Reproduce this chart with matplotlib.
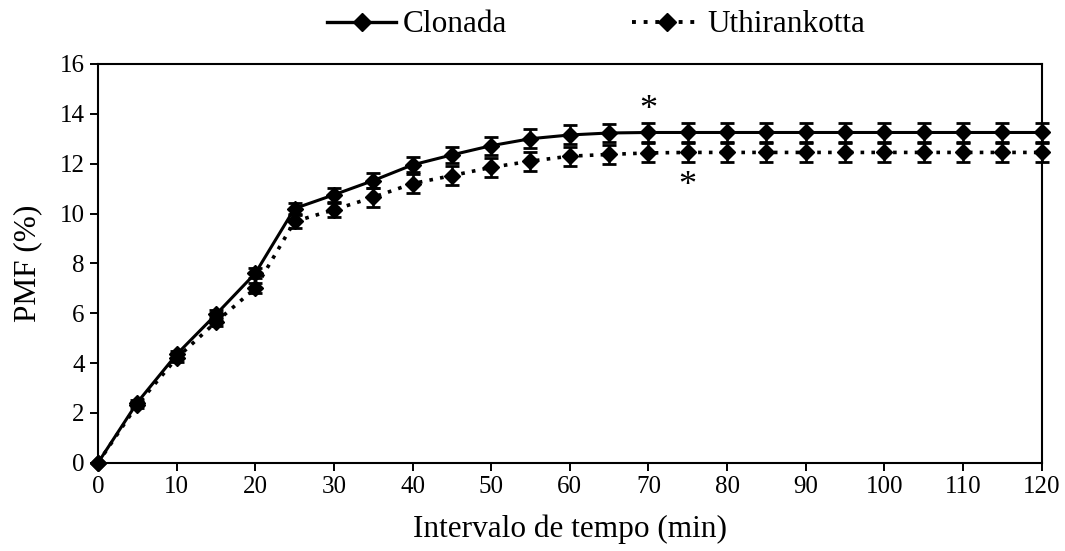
import matplotlib.pyplot as plt
from matplotlib.lines import Line2D

plt.rcParams['font.family'] = ['Liberation Serif', 'DejaVu Serif']

# data
tempo = [0, 5, 10, 15, 20, 25, 30, 35, 40, 45, 50, 55, 60, 65, 70, 75, 80, 85, 90, 95, 100, 105, 110, 115, 120]
clonada = [0, 2.42, 4.35, 5.95, 7.6, 10.2, 10.75, 11.32, 11.95, 12.35, 12.72, 13.0, 13.15, 13.23,
           13.25, 13.25, 13.25, 13.25, 13.25, 13.25, 13.25, 13.25, 13.25, 13.25, 13.25]
clonada_err = [0, 0.12, 0.15, 0.18, 0.2, 0.22, 0.27, 0.3, 0.3, 0.33, 0.36, 0.37, 0.38, 0.38,
               0.38, 0.38, 0.38, 0.38, 0.38, 0.38, 0.38, 0.38, 0.38, 0.38, 0.38]
uthira = [0, 2.33, 4.2, 5.65, 7.0, 9.68, 10.15, 10.65, 11.2, 11.52, 11.85, 12.1, 12.3, 12.37,
          12.43, 12.45, 12.45, 12.45, 12.45, 12.45, 12.45, 12.45, 12.45, 12.45, 12.45]
uthira_err = [0, 0.12, 0.15, 0.18, 0.2, 0.25, 0.29, 0.38, 0.38, 0.38, 0.38, 0.38, 0.38, 0.38,
              0.38, 0.38, 0.38, 0.38, 0.38, 0.38, 0.38, 0.38, 0.38, 0.38, 0.38]

fig = plt.figure(figsize=(10.65, 5.51), dpi=100)
ax = fig.add_axes([0.092, 0.160, 0.886, 0.724])

ax.errorbar(tempo, clonada, yerr=clonada_err, color='black', linestyle='-', linewidth=2.2,
            marker='D', markersize=8, capsize=5, capthick=2, elinewidth=1.8,
            clip_on=False, zorder=3)
ax.errorbar(tempo, uthira, yerr=uthira_err, color='black', linestyle=(0, (1, 2)), linewidth=2.6,
            marker='D', markersize=8, capsize=5, capthick=2, elinewidth=1.8,
            clip_on=False, zorder=3)

# significance markers
ax.text(70, 14.15, '*', fontsize=26, ha='center', va='center')
ax.text(75, 11.08, '*', fontsize=26, ha='center', va='center')

ax.set_xlim(0, 120)
ax.set_ylim(0, 16)
ax.set_xticks(range(0, 121, 10))
ax.set_yticks(range(0, 17, 2))
ax.tick_params(direction='out', length=5.5, width=1.4, labelsize=18, pad=4)
for s in ax.spines.values():
    s.set_linewidth(1.5)

ax.set_xlabel('Intervalo de tempo (min)', fontsize=22.5, labelpad=12)
ax.set_ylabel('PMF (%)', fontsize=22.5, labelpad=13)

handles = [
    Line2D([], [], color='black', linestyle='-', linewidth=2.4, marker='D', markersize=9),
    Line2D([], [], color='black', linestyle=(0, (1, 2)), linewidth=2.8, marker='D', markersize=9),
]
fig.legend(handles, ['Clonada', 'Uthirankotta'], loc='center',
           bbox_to_anchor=(596.5 / 1065, 1 - 25 / 551),
           ncol=2, frameon=False, fontsize=22.5, handlelength=2.2, columnspacing=4.0,
           handletextpad=0.22, borderpad=0, borderaxespad=0)

fig.savefig('out.png', dpi=100)
